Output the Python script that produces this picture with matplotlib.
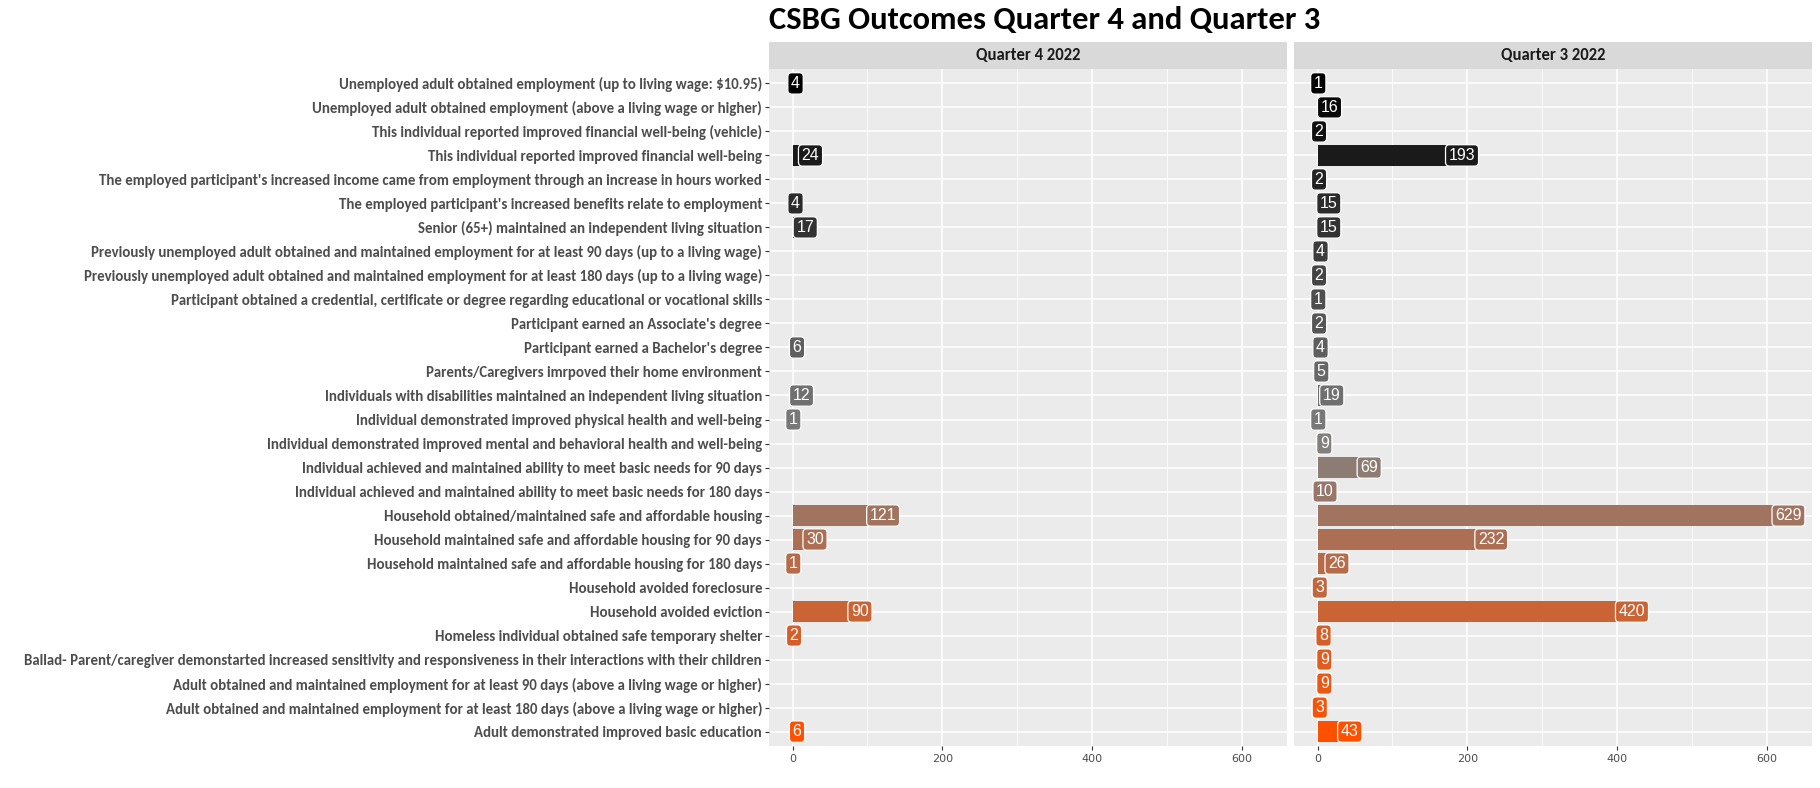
import numpy as np
import matplotlib
matplotlib.use("Agg")
import matplotlib.pyplot as plt
from matplotlib.colors import LinearSegmentedColormap

# outcome categories, top to bottom
categories = [
    "Unemployed adult obtained employment (up to living wage: $10.95)",
    "Unemployed adult obtained employment (above a living wage or higher)",
    "This individual reported improved financial well-being (vehicle)",
    "This individual reported improved financial well-being",
    "The employed participant's increased income came from employment through an increase in hours worked",
    "The employed participant's increased benefits relate to employment",
    "Senior (65+) maintained an independent living situation",
    "Previously unemployed adult obtained and maintained employment for at least 90 days (up to a living wage)",
    "Previously unemployed adult obtained and maintained employment for at least 180 days (up to a living wage)",
    "Participant obtained a credential, certificate or degree regarding educational or vocational skills",
    "Participant earned an Associate's degree",
    "Participant earned a Bachelor's degree",
    "Parents/Caregivers imrpoved their home environment",
    "Individuals with disabilities maintained an independent living situation",
    "Individual demonstrated improved physical health and well-being",
    "Individual demonstrated improved mental and behavioral health and well-being",
    "Individual achieved and maintained ability to meet basic needs for 90 days",
    "Individual achieved and maintained ability to meet basic needs for 180 days",
    "Household obtained/maintained safe and affordable housing",
    "Household maintained safe and affordable housing for 90 days",
    "Household maintained safe and affordable housing for 180 days",
    "Household avoided foreclosure",
    "Household avoided eviction",
    "Homeless individual obtained safe temporary shelter",
    "Ballad- Parent/caregiver demonstarted increased sensitivity and responsiveness in their interactions with their children",
    "Adult obtained and maintained employment for at least 90 days (above a living wage or higher)",
    "Adult obtained and maintained employment for at least 180 days (above a living wage or higher)",
    "Adult demonstrated improved basic education",
]

nan = np.nan
q4_2022 = [4, nan, nan, 24, nan, 4, 17, nan, nan, nan, nan, 6, nan, 12, 1,
           nan, nan, nan, 121, 30, 1, nan, 90, 2, nan, nan, nan, 6]
q3_2022 = [1, 16, 2, 193, 2, 15, 15, 4, 2, 1, 2, 4, 5, 19, 1,
           9, 69, 10, 629, 232, 26, 3, 420, 8, 9, 9, 3, 43]

panels = [("Quarter 4 2022", q4_2022), ("Quarter 3 2022", q3_2022)]
x_ticks = [0, 200, 400, 600]

W, H = 1820, 788
fig = plt.figure(figsize=(W / 100, H / 100), dpi=100)

cmap = LinearSegmentedColormap.from_list(
    "csbg", [(0, "#000000"), (0.55, "#808080"), (1, "#ff5000")])
n = len(categories)
colors = [cmap(i / (n - 1)) for i in range(n)]
ypos = np.arange(n)

all_vals = np.array(q4_2022 + q3_2022, dtype=float)
vmax = np.nanmax(all_vals)
xlim = (-0.05 * vmax, 1.05 * vmax)

calibri = ["Carlito", "Open Sans Condensed", "DejaVu Sans"]

px_bottom, px_top = 746, 69
lefts = [769, 1294]
pw = 518
for k, (name, vals) in enumerate(panels):
    ax = fig.add_axes([lefts[k] / W, 1 - px_bottom / H, pw / W, (px_bottom - px_top) / H])
    ax.set_facecolor("#ebebeb")
    for s in ax.spines.values():
        s.set_visible(False)
    ax.set_xlim(*xlim)
    ax.set_ylim(n - 0.4, -0.6)
    ax.set_xticks(x_ticks)
    ax.set_xticks([100, 300, 500], minor=True)
    ax.grid(True, which="major", color="white", lw=1.1)
    ax.grid(True, which="minor", axis="x", color="white", lw=0.55)
    ax.set_axisbelow(True)
    ax.tick_params(axis="x", which="major", length=3, color="#333333",
                   labelsize=8, labelcolor="#4d4d4d", pad=3)
    ax.tick_params(axis="x", which="minor", length=0)
    ax.set_yticks(ypos)
    if k == 0:
        ax.set_yticklabels(categories, fontsize=10.7, fontweight="bold",
                           color="#4d4d4d", family=calibri)
        ax.tick_params(axis="y", length=3, color="#333333", pad=2)
    else:
        ax.set_yticklabels([])
        ax.tick_params(axis="y", length=0)

    v = np.array(vals, dtype=float)
    ax.barh(ypos, np.nan_to_num(v), height=0.9, color=colors, zorder=2)
    for i, val in enumerate(v):
        if np.isnan(val):
            continue
        ax.text(val, i, f"{int(val)}", ha="center", va="center", color="white",
                fontsize=11.5, family="Liberation Sans", zorder=3,
                bbox=dict(boxstyle="round,pad=0.2,rounding_size=0.25",
                          fc=colors[i], ec="white", lw=0.9))

    # facet strip
    sax = fig.add_axes([lefts[k] / W, 1 - px_top / H, pw / W, 27 / H])
    sax.set_facecolor("#d9d9d9")
    sax.set_xticks([])
    sax.set_yticks([])
    for s in sax.spines.values():
        s.set_visible(False)
    sax.text(0.5, 0.5, name, ha="center", va="center", fontsize=12,
             fontweight="bold", color="#1a1a1a", family=calibri,
             transform=sax.transAxes)

fig.text(769 / W, 1 - 29 / H, "CSBG Outcomes Quarter 4 and Quarter 3",
         ha="left", va="baseline", fontsize=23.5, fontweight="bold",
         color="black", family=calibri)

fig.savefig("out.png", dpi=100)
